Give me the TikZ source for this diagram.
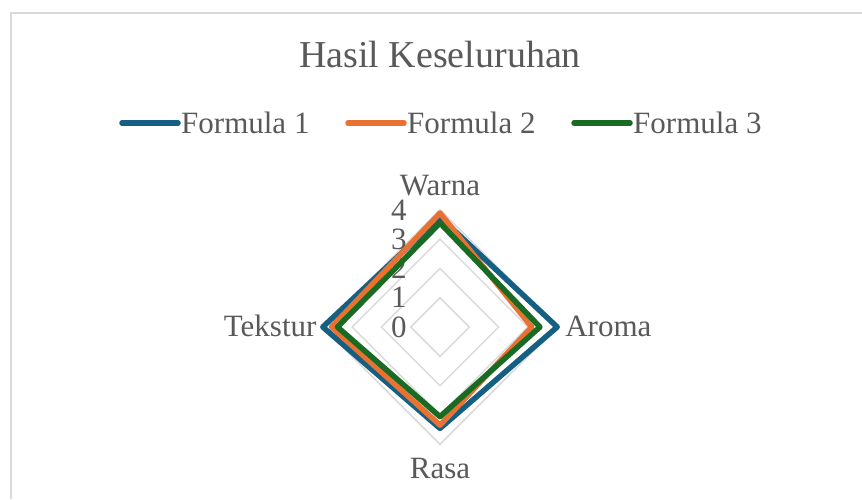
\documentclass[tikz,border=0pt]{standalone}
\usepackage{fontspec}
\setmainfont{Liberation Serif}
\usetikzlibrary{positioning,calc}

\definecolor{fblue}{HTML}{156082}
\definecolor{forange}{HTML}{E97132}
\definecolor{fgreen}{HTML}{196B24}
\definecolor{txtgray}{HTML}{595959}
\definecolor{gridgray}{HTML}{D9D9D9}

\tikzset{
  lbl/.style={text=txtgray, inner sep=0pt, font=\fontsize{31}{37}\selectfont},
  serie/.style={line width=5.5pt, line join=round, line cap=round},
  ring/.style={draw=gridgray, line width=1.5pt},
}

\begin{document}
\begin{tikzpicture}[x=1pt,y=-1pt]
  \useasboundingbox (0,0) rectangle (862,499);
  % chart frame
  \draw[gridgray, line width=1.5pt] (11,499) -- (11,13) -- (862,13);

  % title
  \node[lbl, font=\fontsize{38}{45}\selectfont, anchor=base] (title) at (440,67) {Hasil Keseluruhan};

  % legend
  \foreach \i/\x/\col in {1/122/fblue, 2/348/forange, 3/574/fgreen} {
    \coordinate (L\i) at (\x,123);
    \draw[\col, line width=5.5pt, line cap=round] (L\i) -- ++(56,0) coordinate (E\i);
    \node[lbl, anchor=base west] (F\i) at (\x+59,133) {Formula \i};
  }

  % radar
  \begin{scope}[shift={(440,327)}, x=29.3pt, y=29.3pt]
    \coordinate (C) at (0,0);
    \foreach \r in {1,2,3,4}
      \draw[ring] (0,\r) -- (\r,0) -- (0,-\r) -- (-\r,0) -- cycle;
    \foreach \v in {0,...,4}
      \node[lbl, anchor=east] (tick\v) at (-1.13,\v) {\v};

    % axis names
    \node[lbl, anchor=base] (warna) at (0,4.5) {Warna};
    \node[lbl, anchor=base west] (aroma) at (4.27,-0.33) {Aroma};
    \node[lbl, anchor=base] (rasa) at (0,-5.16) {Rasa};
    \node[lbl, anchor=base east] (tekstur) at (-4.21,-0.33) {Tekstur};

    % series: Warna/Aroma/Rasa/Tekstur
    \foreach \s/\col/\w/\a/\r/\t in {B/fblue/3.75/4/3.46/4, O/forange/3.89/3.13/3.35/3.7, G/fgreen/3.55/3.41/3.06/3.5} {
      \draw[serie, \col] (0,\w) coordinate (\s w) -- (\a,0) coordinate (\s a)
        -- (0,-\r) coordinate (\s r) -- (-\t,0) coordinate (\s t) -- cycle;
    }
  \end{scope}
\end{tikzpicture}
\end{document}
